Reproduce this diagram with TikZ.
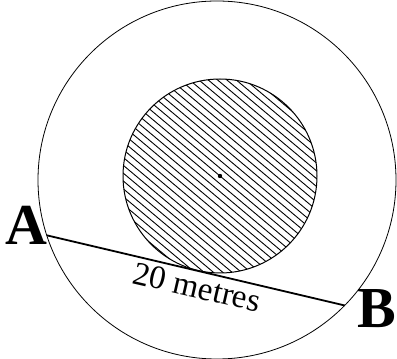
\documentclass[tikz,border=0pt]{standalone}
\usepackage{fontspec}
\setmainfont{Liberation Serif}
\usepackage{tikz}
\usetikzlibrary{calc, positioning}

\begin{document}
\begin{tikzpicture}[x=1pt, y=1pt,
        ring/.style={line width=0.8pt},
        chord/.style={line width=1.8pt},
        hatch/.style={line width=0.9pt},
        point/.style={font=\fontsize{58}{58}\selectfont\bfseries, inner sep=0pt},
        length/.style={font=\fontsize{33}{33}\selectfont, inner sep=0pt, rotate=-13}]
        \useasboundingbox (0,0) rectangle (397,359);

        \coordinate (O) at (217,179);
        \coordinate (C) at (220,183);
        \coordinate (pA) at ($(O)+(198:179)$);
        \coordinate (pB) at ($(O)+(-44.5:179)$);

        % hatched pond
        \begin{scope}
            \clip (C) circle (97);
            \foreach \d in {-102,-96,...,102}
                \draw[hatch] ($(C)+(50:\d)+(-40:-110)$) -- ($(C)+(50:\d)+(-40:110)$);
        \end{scope}
        \draw[line width=1pt] (C) circle (97);
        \fill (C) circle (2.2);

        \draw[ring] (O) circle (179);
        \draw[chord] (pA) -- (pB);

        \node[point] (labA) at (26,134) {A};
        \node[point] (labB) at (377,50) {B};
        \node[length] (len) at (197,72) {20 metres};
\end{tikzpicture}
\end{document}
